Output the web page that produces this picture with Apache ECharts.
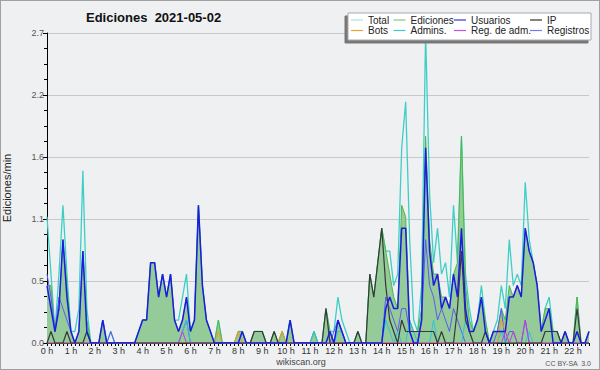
<!DOCTYPE html>
<html>
<head>
<meta charset="utf-8">
<script src="https://cdn.jsdelivr.net/npm/echarts@6/dist/echarts.min.js"></script>
<style>
  body { margin: 0; background: #fff; }
  #chart { width: 600px; height: 370px; box-sizing: border-box; border: 1px solid #a0a0a0; }
</style>
</head>
<body>
<div id="chart"></div>
<script>
// one value every 10 minutes, edits per minute
var hourLabels = ['0 h', '1 h', '2 h', '3 h', '4 h', '5 h', '6 h', '7 h', '8 h', '9 h', '10 h', '11 h',
    '12 h', '13 h', '14 h', '15 h', '16 h', '17 h', '18 h', '19 h', '20 h', '21 h', '22 h'];

var total = [
    1.1, 0.6, 0.1, 0.6, 1.2, 0.6,
    0.1, 0.1, 0.3, 1.5, 0.3, 0,
    0, 0, 0.2, 0, 0.1, 0,
    0, 0, 0, 0, 0, 0.1,
    0.2, 0.2, 0.7, 0.7, 0.4, 0.6,
    0.4, 0.6, 0.2, 0.2, 0.4, 0.6,
    0.1, 0.2, 1.2, 0.5, 0.2, 0.1,
    0, 0.2, 0, 0, 0, 0,
    0.1, 0.1, 0, 0, 0.1, 0.1,
    0.1, 0, 0, 0.1, 0, 0.1,
    0, 0.2, 0, 0, 0, 0,
    0, 0.1, 0, 0, 0.3, 0.1,
    0.1, 0.4, 0.2, 0.1, 0, 0,
    0.1, 0, 0, 0.6, 0.4, 0.7,
    1.0, 0.8, 0.8, 0.5, 0.6, 1.7,
    2.1, 0.9, 0.2, 0.1, 0.5, 2.7,
    1.3, 0.7, 1.0, 0.6, 0.7, 0.4,
    1.2, 0.7, 1.8, 0.6, 0.3, 0.1,
    0.2, 0.5, 0.2, 0, 0.1, 0.2,
    0.5, 0.3, 0.9, 0.5, 0.6, 0.5,
    1.4, 0.9, 0.7, 0.5, 0.1, 0.3,
    0.4, 0.1, 0.1, 0, 0.1, 0,
    0, 0.4, 0, 0, 0.1
];
var ediciones = [
    0.5, 0.5, 0.1, 0.3, 0.9, 0.5,
    0.1, 0, 0.1, 0.8, 0.2, 0,
    0, 0, 0.2, 0, 0, 0,
    0, 0, 0, 0, 0, 0.1,
    0.2, 0.2, 0.7, 0.7, 0.4, 0.6,
    0.4, 0.6, 0.2, 0.1, 0.2, 0.4,
    0.1, 0.2, 1.2, 0.5, 0.2, 0.1,
    0, 0.2, 0, 0, 0, 0,
    0.1, 0.1, 0, 0, 0.1, 0.1,
    0.1, 0, 0, 0.1, 0, 0.1,
    0, 0.2, 0, 0, 0, 0,
    0, 0.1, 0, 0, 0.3, 0.1,
    0, 0.2, 0.1, 0, 0, 0,
    0.1, 0, 0, 0.6, 0.4, 0.7,
    1.0, 0.8, 0.6, 0.4, 0.3, 1.2,
    1.1, 0.2, 0.1, 0.1, 0.3, 1.8,
    0.9, 0.6, 0.6, 0.4, 0.4, 0.3,
    0.6, 0.7, 1.8, 0.5, 0.2, 0.1,
    0.2, 0.4, 0.2, 0, 0.1, 0.1,
    0.3, 0.2, 0.5, 0.4, 0.5, 0.4,
    1.0, 0.8, 0.7, 0.5, 0.1, 0.3,
    0.3, 0.1, 0.1, 0, 0.1, 0,
    0, 0.4, 0, 0, 0.1
];
var usuarios = [
    0.5, 0.3, 0.1, 0.3, 0.9, 0.4,
    0.1, 0, 0.1, 0.8, 0.1, 0,
    0, 0, 0.2, 0, 0, 0,
    0, 0, 0, 0, 0, 0.1,
    0.2, 0.2, 0.7, 0.7, 0.4, 0.6,
    0.4, 0.6, 0.2, 0.1, 0.2, 0.4,
    0.1, 0.2, 1.2, 0.5, 0.2, 0.1,
    0, 0, 0, 0, 0, 0,
    0, 0.1, 0, 0, 0, 0,
    0, 0, 0, 0, 0, 0,
    0, 0.2, 0, 0, 0, 0,
    0, 0, 0, 0, 0, 0.1,
    0, 0.2, 0.1, 0, 0, 0,
    0, 0, 0, 0, 0, 0,
    0, 0.3, 0.4, 0.3, 0.3, 1.0,
    1.0, 0.1, 0, 0, 0.2, 1.7,
    0.8, 0.5, 0.6, 0.3, 0.4, 0.3,
    0.6, 0.4, 1.0, 0.3, 0.1, 0.1,
    0.2, 0.4, 0.1, 0, 0.1, 0.1,
    0.1, 0.1, 0.4, 0.4, 0.5, 0.4,
    1.0, 0.8, 0.7, 0.5, 0.1, 0.2,
    0.3, 0, 0, 0, 0.1, 0,
    0, 0.1, 0, 0, 0.1
];
var ip = [
    0, 0.1, 0, 0, 0, 0.1,
    0, 0, 0, 0, 0.1, 0,
    0, 0, 0, 0, 0, 0,
    0, 0, 0, 0, 0, 0,
    0, 0, 0, 0, 0, 0,
    0, 0, 0, 0, 0, 0,
    0, 0, 0, 0, 0, 0,
    0, 0, 0, 0, 0, 0,
    0, 0, 0, 0, 0.1, 0.1,
    0.1, 0, 0, 0.1, 0, 0,
    0, 0, 0, 0, 0, 0,
    0, 0, 0, 0, 0.3, 0,
    0, 0, 0, 0, 0, 0,
    0.1, 0, 0, 0.6, 0.4, 0.7,
    1.0, 0.5, 0.2, 0.1, 0, 0.2,
    0.1, 0.1, 0.1, 0.1, 0.1, 0.1,
    0.1, 0.1, 0, 0.1, 0, 0,
    0, 0.3, 0.8, 0.2, 0.1, 0,
    0, 0, 0.1, 0, 0, 0,
    0, 0, 0, 0, 0, 0,
    0, 0, 0, 0, 0, 0.1,
    0.1, 0.1, 0.1, 0, 0, 0,
    0, 0.3, 0, 0, 0
];
var bots = [
    0, 0, 0, 0, 0, 0,
    0, 0, 0, 0, 0, 0,
    0, 0, 0, 0, 0, 0,
    0, 0, 0, 0, 0, 0,
    0, 0, 0, 0, 0, 0,
    0, 0, 0, 0, 0, 0,
    0, 0, 0, 0, 0, 0,
    0, 0.1, 0, 0, 0, 0,
    0.1, 0, 0, 0, 0, 0,
    0, 0, 0, 0, 0, 0.1,
    0, 0, 0, 0, 0, 0,
    0, 0, 0, 0, 0, 0,
    0, 0, 0, 0, 0, 0,
    0, 0, 0, 0, 0, 0,
    0, 0, 0, 0, 0, 0,
    0, 0, 0, 0, 0, 0,
    0, 0, 0, 0, 0, 0,
    0, 0, 0, 0, 0, 0,
    0, 0, 0, 0, 0, 0,
    0.2, 0.1, 0, 0, 0, 0,
    0, 0, 0, 0, 0, 0,
    0, 0, 0, 0, 0, 0,
    0, 0, 0, 0, 0
];
var admins = [
    0, 0, 0, 0, 0, 0,
    0, 0, 0, 0, 0, 0,
    0, 0, 0, 0, 0, 0,
    0, 0, 0, 0, 0, 0,
    0, 0, 0, 0, 0, 0,
    0, 0, 0, 0, 0.1, 0.2,
    0, 0, 0, 0, 0, 0,
    0, 0, 0, 0, 0, 0,
    0, 0, 0, 0, 0, 0,
    0, 0, 0, 0, 0, 0,
    0, 0, 0, 0, 0, 0,
    0, 0.1, 0, 0, 0, 0,
    0, 0.1, 0.1, 0, 0, 0,
    0, 0, 0, 0, 0, 0,
    0, 0.2, 0.1, 0, 0.1, 0,
    0, 0.2, 0.1, 0, 0, 0,
    0, 0.2, 0, 0, 0, 0,
    0, 0, 0, 0.2, 0.1, 0,
    0, 0, 0, 0, 0, 0,
    0.1, 0, 0, 0, 0, 0,
    0, 0.1, 0, 0, 0, 0,
    0, 0, 0, 0, 0, 0,
    0, 0, 0, 0, 0
];
var regAdm = [
    0, 0, 0, 0, 0, 0,
    0, 0, 0, 0, 0, 0,
    0, 0, 0, 0, 0, 0,
    0, 0, 0, 0, 0, 0,
    0, 0, 0, 0, 0, 0,
    0, 0, 0, 0, 0.1, 0,
    0, 0, 0, 0, 0, 0,
    0, 0, 0, 0, 0, 0,
    0, 0, 0, 0, 0, 0,
    0, 0, 0, 0, 0, 0,
    0, 0, 0, 0, 0, 0,
    0, 0, 0, 0, 0, 0,
    0, 0, 0, 0, 0, 0,
    0, 0, 0, 0, 0, 0,
    0, 0, 0, 0, 0, 0,
    0, 0, 0, 0, 0, 0,
    0, 0, 0, 0, 0, 0,
    0, 0, 0, 0, 0, 0,
    0, 0, 0, 0, 0, 0,
    0, 0.1, 0, 0.1, 0, 0,
    0.2, 0, 0, 0, 0, 0,
    0, 0, 0, 0, 0, 0,
    0, 0, 0, 0, 0
];
var registros = [
    0.6, 0.4, 0.1, 0.4, 0.3, 0.2,
    0.1, 0, 0, 0, 0, 0,
    0, 0, 0, 0, 0.1, 0,
    0, 0, 0, 0, 0, 0,
    0, 0, 0, 0, 0, 0,
    0, 0, 0, 0, 0.1, 0.2,
    0, 0, 0, 0, 0, 0,
    0, 0, 0, 0, 0, 0,
    0, 0, 0, 0, 0, 0,
    0, 0, 0, 0, 0, 0,
    0, 0, 0, 0, 0, 0,
    0, 0, 0, 0, 0, 0,
    0.1, 0.2, 0.1, 0, 0, 0,
    0, 0, 0, 0, 0, 0,
    0, 0.4, 0.3, 0.2, 0.1, 0.3,
    0.3, 0.1, 0, 0, 0.2, 0.9,
    0.5, 0.4, 0.2, 0.3, 0.2, 0.1,
    0.3, 0.2, 0.1, 0, 0, 0,
    0, 0, 0, 0, 0, 0.1,
    0.3, 0, 0.1, 0.1, 0, 0,
    0.2, 0, 0, 0, 0, 0,
    0, 0, 0, 0, 0, 0,
    0, 0, 0, 0, 0
];

var slots = [];
hourLabels.forEach(function (lab, h) {
    for (var m = 0; m < 6; m++) {
        slots.push(h + ':' + m + '0');
    }
});
slots = slots.slice(0, total.length);

var font = '"Liberation Sans", Arial, sans-serif';

// svg renderer: the canvas one dropped parts of the green area under the blue line
var chart = echarts.init(document.getElementById('chart'), null, { renderer: 'svg' });

function legendBlock(left, names) {
    return {
        orient: 'vertical',
        left: left,
        top: 14,
        padding: 0,
        icon: 'rect',
        itemWidth: 12,
        itemHeight: 1.2,
        itemGap: 0.5,
        z: 11,
        textStyle: { fontFamily: font, fontSize: 10, color: '#222', lineHeight: 10 },
        data: names
    };
}

function leg(name, color) {
    return { name: name, itemStyle: { color: color, borderWidth: 0 } };
}

function line(name, data, color, width, z) {
    return {
        name: name,
        type: 'line',
        data: data,
        xAxisIndex: 1,
        yAxisIndex: 1,
        symbol: 'none',
        z: z,
        lineStyle: { color: color, width: width },
        itemStyle: { color: color }
    };
}

var edSeries = {
    name: 'Ediciones',
    type: 'line',
    data: ediciones,
    xAxisIndex: 0,
    yAxisIndex: 0,
    symbol: 'none',
    z: 3,
    lineStyle: { color: '#4cb84c', width: 1 },
    itemStyle: { color: '#4cb84c' },
    areaStyle: { color: '#94cb98', opacity: 1 }
};

var option = {
    animation: false,
    backgroundColor: '#eff0f2',
    title: {
        text: 'Ediciones  2021-05-02',
        left: 85,
        top: 10,
        padding: 0,
        textStyle: { fontFamily: font, fontSize: 13, fontWeight: 'bold', color: '#111' }
    },
    legend: [
        legendBlock(350, [leg('Total', '#a6e3e0'), leg('Bots', '#f0a030')]),
        legendBlock(392.5, [leg('Ediciones', '#80cc80'), leg('Admins.', '#3cc8dc')]),
        legendBlock(453, [leg('Usuarios', '#3535e0'), leg('Reg. de adm.', '#c850e0')]),
        legendBlock(529, [leg('IP', '#333333'), leg('Registros', '#7a7af0')])
    ],
    graphic: [
        {
            type: 'rect',
            z: 10,
            shape: { x: 347, y: 12, width: 243, height: 27 },
            style: {
                fill: '#ffffff', stroke: '#aaaaaa', lineWidth: 1,
                shadowColor: '#777777', shadowOffsetX: -3, shadowOffsetY: 3, shadowBlur: 0
            }
        },
        {
            type: 'text', x: 300, y: 361, z: 10,
            style: { text: 'wikiscan.org', fill: '#444', font: '9px ' + font, textAlign: 'center', textVerticalAlign: 'middle' }
        },
        {
            type: 'text', x: 590, y: 362, z: 10,
            style: { text: 'CC BY-SA  3.0', fill: '#555', font: '7px ' + font, textAlign: 'right', textVerticalAlign: 'middle' }
        }
    ],
    grid: { left: 46, right: 10, top: 32, bottom: 26, containLabel: false, outerBoundsMode: 'none' },
    xAxis: [
        {
            type: 'category',
            data: slots,
            boundaryGap: false,
            axisLine: { lineStyle: { color: '#000', width: 1 } },
            axisTick: { interval: 0, length: 3, lineStyle: { color: '#000' } },
            axisLabel: {
                interval: function (idx) { return idx % 6 === 0; },
                formatter: function (v, idx) { return hourLabels[idx / 6] || ''; },
                fontFamily: font, fontSize: 9, color: '#333', margin: 3
            },
            splitLine: { show: false }
        },
        { type: 'category', data: slots, boundaryGap: false, show: false }
    ],
    yAxis: [
        {
            type: 'value',
            min: 0,
            max: 2.7,
            interval: 0.54,
            name: 'Ediciones/min',
            nameLocation: 'middle',
            nameRotate: 90,
            nameGap: 35,
            nameTextStyle: { fontFamily: font, fontSize: 11, color: '#222' },
            axisLine: { show: true, lineStyle: { color: '#000', width: 1 } },
            axisTick: { show: true, length: 4, lineStyle: { color: '#000' } },
            minorTick: { show: true, splitNumber: 4, length: 3, lineStyle: { color: '#000' } },
            axisLabel: {
                formatter: function (v) { return v.toFixed(1); },
                fontFamily: font, fontSize: 9, color: '#555', margin: 3
            },
            splitLine: { lineStyle: { color: '#c8c8c8', width: 1 } }
        },
        { type: 'value', min: 0, max: 2.7, interval: 0.54, show: false, splitLine: { show: false } }
    ],
    series: [
        line('Total', total, '#3dcfc6', 1.3, 2),
        edSeries,
        line('Registros', registros, '#5b5bf0', 1, 4),
        line('Admins.', admins, '#2cc4dc', 1, 4),
        line('Bots', bots, '#f29a1a', 1, 4),
        line('Reg. de adm.', regAdm, '#c23ce6', 1, 4),
        line('IP', ip, '#383838', 1.2, 5),
        line('Usuarios', usuarios, '#1c1ce0', 1.5, 6)
    ]
};

chart.setOption(option);
</script>
</body>
</html>
